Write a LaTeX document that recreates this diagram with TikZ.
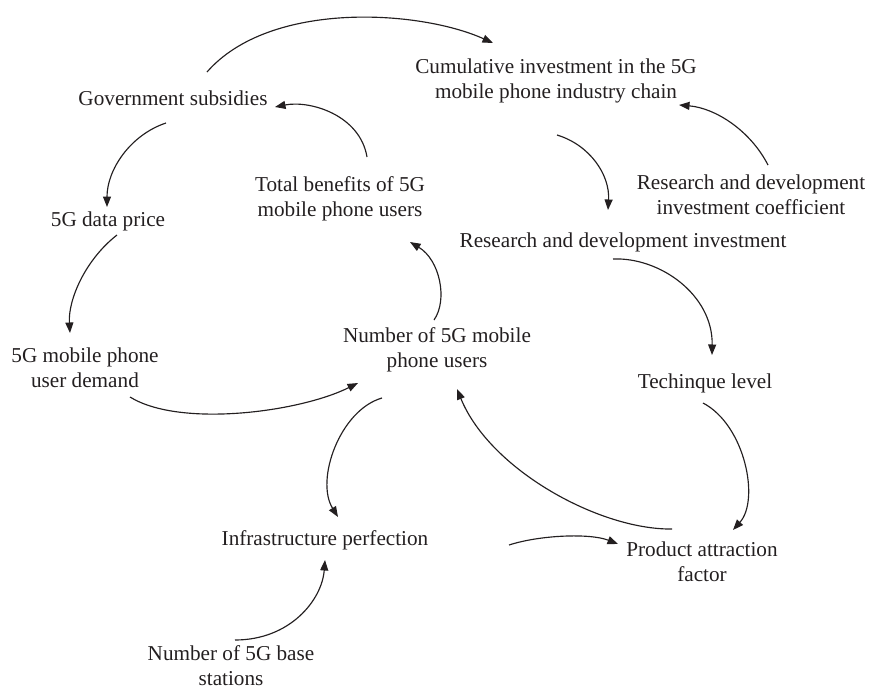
\documentclass[tikz,border=0pt]{standalone}
\usepackage{fontspec}
\setmainfont{Liberation Serif}
\usetikzlibrary{arrows.meta,calc}
\definecolor{ink}{RGB}{35,31,32}
\begin{document}
\begin{tikzpicture}[x=1pt,y=-1pt,
  var/.style={align=center,inner sep=0pt,text=ink,
    font=\fontsize{21.2}{25}\selectfont},
  link/.style={draw=ink,line width=1.15pt,
    -{Triangle[length=10.5pt,width=8pt]}}]
\useasboundingbox (0,0) rectangle (871,691);

% variables
\node[var] (cum)    at (556,81)  {Cumulative investment in the 5G\\mobile phone industry chain};
\node[var] (gov)    at (173,98)  {Government subsidies};
\node[var] (tb)     at (340,199) {Total benefits of 5G\\mobile phone users};
\node[var] (rdc)    at (751,195) {Research and development\\investment coefficient};
\node[var] (price)  at (108,221) {5G data price};
\node[var] (rdi)    at (623,242) {Research and development investment};
\node[var] (demand) at (85,368)  {5G mobile phone\\user demand};
\node[var] (users)  at (437,350) {Number of 5G mobile\\phone users};
\node[var] (tech)   at (705,383) {Techinque level};
\node[var] (infra)  at (325,540) {Infrastructure perfection};
\node[var] (prod)   at (702,562) {Product attraction\\factor};
\node[var] (base)   at (231,666) {Number of 5G base\\stations};

% causal links
\draw[link] ($(gov)+(34,-26)$)    .. controls (270,0)   and (420,10)  .. ($(cum)+(-63,-38)$);
\draw[link] ($(tb)+(27,-42)$)     .. controls (360,115) and (310,100) .. ($(gov)+(102,9)$);
\draw[link] ($(gov)+(-7,25)$)     .. controls (130,135) and (107,170) .. ($(price)+(-1,-14)$);
\draw[link] ($(cum)+(1,54)$)      .. controls (590,145) and (610,175) .. ($(rdi)+(-15,-32)$);
\draw[link] ($(rdc)+(17,-30)$)    .. controls (750,130) and (715,108) .. ($(cum)+(123,24)$);
\draw[link] ($(price)+(9,14)$)    .. controls (85,260)  and (68,300)  .. ($(demand)+(-15,-35)$);
\draw[link] ($(users)+(-3,-30)$)  .. controls (448,300) and (440,260) .. ($(tb)+(70,43)$);
\draw[link] ($(rdi)+(-10,17)$)    .. controls (660,257) and (713,295) .. ($(tech)+(7,-28)$);
\draw[link] ($(demand)+(45,29)$)  .. controls (180,428) and (300,412) .. ($(users)+(-79,33)$);
\draw[link] ($(users)+(-55,48)$)  .. controls (340,410) and (315,480) .. ($(infra)+(13,-23)$);
\draw[link] ($(tech)+(-2,20)$)    .. controls (745,425) and (760,500) .. ($(prod)+(31,-32)$);
\draw[link] ($(prod)+(-30,-33)$)  .. controls (600,530) and (490,470) .. ($(users)+(20,39)$);
\draw[link] ($(infra)+(184,5)$)   .. controls (540,535) and (590,533) .. ($(prod)+(-84,-18)$);
\draw[link] ($(base)+(4,-26)$)    .. controls (290,640) and (322,600) .. ($(infra)+(0,20)$);
\end{tikzpicture}
\end{document}
